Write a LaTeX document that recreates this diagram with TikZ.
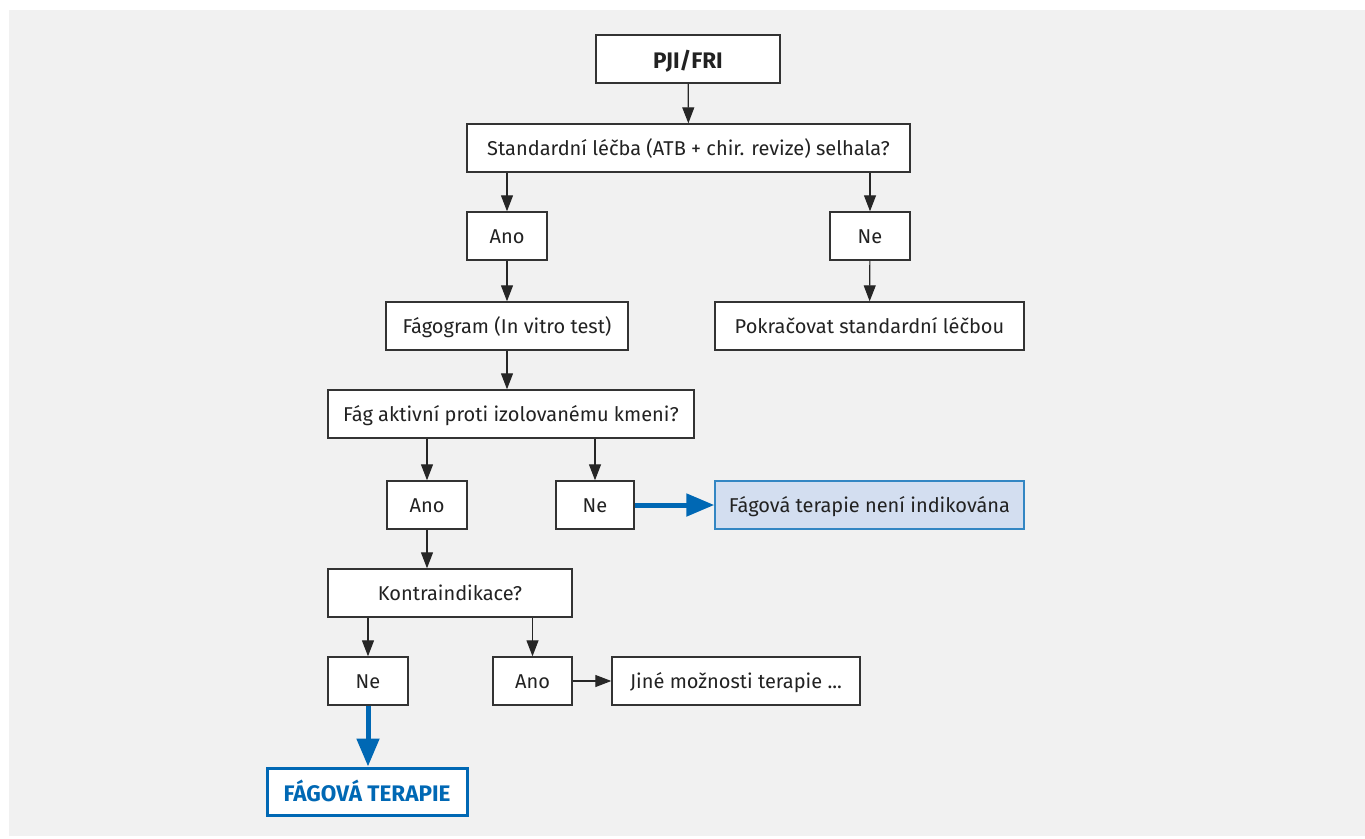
\documentclass[tikz,border=0pt]{standalone}
\usepackage{fontspec}
\setmainfont{Fira Sans}
\usetikzlibrary{arrows.meta}
\definecolor{bg}{HTML}{F1F1F1}
\definecolor{bord}{HTML}{333333}
\definecolor{txt}{HTML}{222222}
\definecolor{blu}{HTML}{0068B4}
\definecolor{lblu}{HTML}{D3DEF0}
\tikzset{
  box/.style={draw=bord, line width=1.4pt, fill=white, text=txt, minimum height=48pt, inner sep=0pt, text height=15pt, text depth=1pt, font=\fontsize{20}{24}\selectfont},
  bbox/.style={box, text height=19.5pt, text depth=0pt, font=\fontsize{22.5}{26}\selectfont\bfseries},
  arr/.style={draw=black!85, line width=1.2pt, -{Triangle[length=16pt,width=12pt]}},
  barr/.style={draw=blu, line width=5pt, -{Triangle[length=28pt,width=22pt]}},
}
\begin{document}
\begin{tikzpicture}[x=1pt,y=-1pt]
\useasboundingbox (0,0) rectangle (1365,838);
\fill[bg] (9,10) rectangle (1365,836);
\node[bbox, minimum width=184pt] (pji) at (688,59) {PJI/FRI};
\node[box, minimum width=443pt] (std) at (688.5,148) {Standardní léčba (ATB + chir. revize) selhala?};
\node[box, minimum width=80pt] (ano1) at (507,236) {Ano};
\node[box, minimum width=80pt] (ne1) at (870,236) {Ne};
\node[box, minimum width=242pt] (fgr) at (507,326) {Fágogram (In vitro test)};
\node[box, minimum width=309pt] (pok) at (869.5,326) {Pokračovat standardní léčbou};
\node[box, minimum width=366pt] (fag) at (511,414) {Fág aktivní proti izolovanému kmeni?};
\node[box, minimum width=80pt] (ano2) at (427,505) {Ano};
\node[box, minimum width=78pt] (ne2) at (595,505) {Ne};
\node[box, draw=blu!80!white, fill=lblu, minimum width=309pt] (neind) at (869.5,505) {Fágová terapie není indikována};
\node[box, minimum width=244pt] (kon) at (450,593) {Kontraindikace?};
\node[box, minimum width=80pt] (ne3) at (368,681) {Ne};
\node[box, minimum width=79pt] (ano3) at (532.5,681) {Ano};
\node[box, minimum width=248pt] (jine) at (736,681) {Jiné možnosti terapie ...};
\node[bbox, draw=blu, line width=3pt, text=blu, minimum width=200pt, minimum height=47pt] (ft) at (367,791.5) {FÁGOVÁ TERAPIE};

\draw[arr] (pji) -- (std);
\draw[arr] (std.south -| ano1) -- (ano1);
\draw[arr] (std.south -| ne1) -- (ne1);
\draw[arr] (ano1) -- (fgr);
\draw[arr] (ne1) -- (pok);
\draw[arr] (fgr.south) -- (fgr.south |- fag.north);
\draw[arr] (fag.south -| ano2) -- (ano2);
\draw[arr] (fag.south -| ne2) -- (ne2);
\draw[arr] (ano2.south) -- (ano2.south |- kon.north);
\draw[arr] (kon.south -| ne3) -- (ne3);
\draw[arr] (kon.south -| ano3) -- (ano3);
\draw[arr] (ano3) -- (jine);
\draw[barr] (ne2) -- (neind);
\draw[barr] (ne3.south) -- (ne3.south |- ft.north);
\end{tikzpicture}
\end{document}
